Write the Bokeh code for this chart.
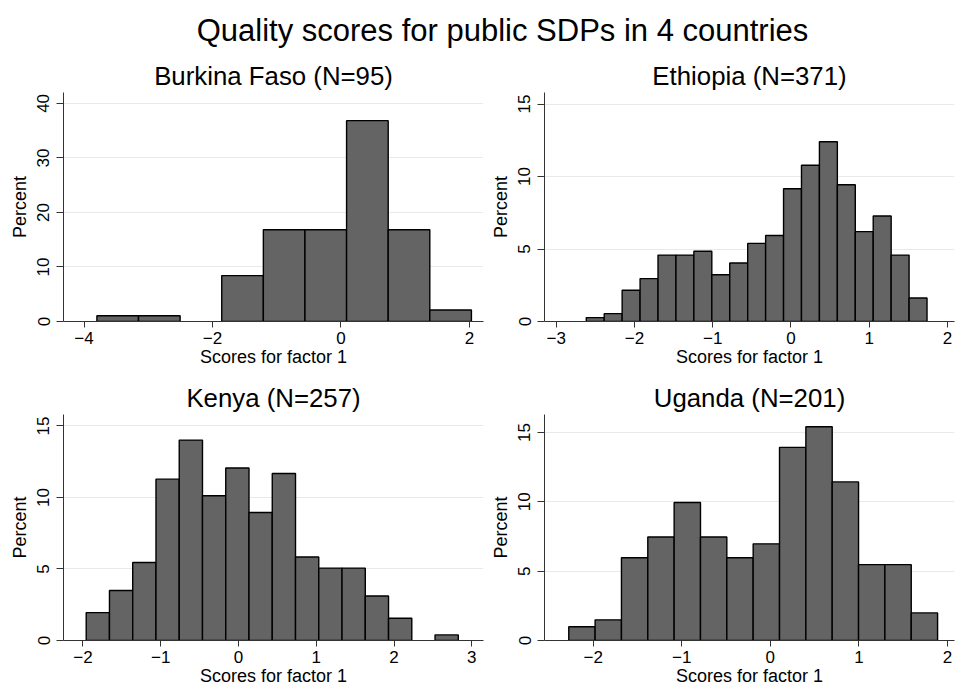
from bokeh.plotting import figure
from bokeh.layouts import gridplot, column
from bokeh.models import ColumnDataSource, FixedTicker, Range1d
from bokeh.core.properties import value
from bokeh.embed import file_html
from bokeh.resources import INLINE

# ---------------- data ----------------
main_title = "Quality scores for public SDPs in 4 countries"
x_axis_label = "Scores for factor 1"
y_axis_label = "Percent"

countries = ["Burkina Faso", "Ethiopia", "Kenya", "Uganda"]
sample_sizes = [95, 371, 257, 201]

burkina_bin_start = -3.80
burkina_bin_width = 0.648
burkina_percent = [1.05, 1.05, 0.0, 8.42, 16.84, 16.84, 36.84, 16.84, 2.11]

ethiopia_bin_start = -2.616
ethiopia_bin_width = 0.2292
ethiopia_percent = [0.27, 0.54, 2.16, 2.96, 4.58, 4.58, 4.85, 3.23, 4.04, 5.39,
                    5.93, 9.16, 10.78, 12.40, 9.43, 6.20, 7.28, 4.58, 1.62]

kenya_bin_start = -1.958
kenya_bin_width = 0.299
kenya_percent = [1.95, 3.50, 5.45, 11.28, 14.01, 10.12, 12.06, 8.95, 11.67, 5.84,
                 5.06, 5.06, 3.11, 1.56, 0.0, 0.39]

uganda_bin_start = -2.276
uganda_bin_width = 0.2975
uganda_percent = [0.99, 1.49, 5.97, 7.46, 9.95, 7.46, 5.97, 6.97, 13.93, 15.42,
                  11.44, 5.47, 5.47, 1.99]

burkina_x_ticks = [-4, -2, 0, 2]
ethiopia_x_ticks = [-3, -2, -1, 0, 1, 2]
kenya_x_ticks = [-2, -1, 0, 1, 2, 3]
uganda_x_ticks = [-2, -1, 0, 1, 2]
burkina_y_ticks = [0, 10, 20, 30, 40]
other_y_ticks = [0, 5, 10, 15]

# ---------------- styling / layout ----------------
FONT = "Liberation Sans"
BAR_FILL = "#646464"
AXIS_COLOR = "#333333"
GRID_COLOR = "#e9e9e9"


def make_panel(name, n, start, width, percent, xticks, yticks, xr, yr,
               border_left, border_right, border_top, frame_w, frame_h):
    lefts, rights, tops = [], [], []
    for i, pct in enumerate(percent):
        if pct > 0:
            lefts.append(start + i * width)
            rights.append(start + (i + 1) * width)
            tops.append(pct)
    src = ColumnDataSource(dict(left=lefts, right=rights, top=tops,
                                bottom=[0] * len(tops)))
    p = figure(frame_width=frame_w, frame_height=frame_h,
               x_range=Range1d(*xr), y_range=Range1d(*yr),
               toolbar_location=None, output_backend="svg",
               min_border_left=border_left, min_border_right=border_right,
               min_border_top=border_top, min_border_bottom=48,
               title=f"{name} (N={n})")
    p.quad(left="left", right="right", top="top", bottom="bottom", source=src,
           fill_color=BAR_FILL, line_color="black", line_width=1.4)
    p.title.align = "center"
    p.title.text_font = FONT
    p.title.text_font_size = "25.8px"
    p.title.text_font_style = "normal"
    p.title.text_color = "black"
    p.title.standoff = 6
    p.outline_line_color = None
    p.background_fill_color = "white"
    p.border_fill_color = "white"
    p.xgrid.visible = False
    p.ygrid.ticker = FixedTicker(ticks=yticks)
    p.ygrid.grid_line_color = GRID_COLOR
    p.ygrid.grid_line_width = 1
    p.xaxis.ticker = FixedTicker(ticks=xticks)
    p.yaxis.ticker = FixedTicker(ticks=yticks)
    p.xaxis.axis_label = x_axis_label
    p.yaxis.axis_label = y_axis_label
    for ax in (p.xaxis[0], p.yaxis[0]):
        ax.axis_line_color = AXIS_COLOR
        ax.major_tick_line_color = AXIS_COLOR
        ax.minor_tick_line_color = None
        ax.major_tick_in = 0
        ax.major_label_text_font = FONT
        ax.major_label_text_font_size = "17px"
        ax.major_label_text_color = "black"
        ax.axis_label_text_font = FONT
        ax.axis_label_text_font_size = "18px"
        ax.axis_label_text_font_style = "normal"
        ax.axis_label_text_color = "black"
    p.xaxis.major_tick_out = 6
    p.xaxis.major_label_standoff = 4
    p.xaxis.axis_label_standoff = 0
    p.yaxis.major_tick_out = 7
    p.yaxis.major_label_standoff = 7
    p.yaxis.axis_label_standoff = 5
    p.yaxis.major_label_orientation = "vertical"
    return p


p1 = make_panel(countries[0], sample_sizes[0], burkina_bin_start, burkina_bin_width,
                burkina_percent, burkina_x_ticks, burkina_y_ticks,
                (-4.32, 2.22), (0, 42), 63, 2, 42, 420, 229)
p2 = make_panel(countries[1], sample_sizes[1], ethiopia_bin_start, ethiopia_bin_width,
                ethiopia_percent, ethiopia_x_ticks, other_y_ticks,
                (-3.15, 2.09), (0, 15.8), 59, 4, 42, 410, 229)
p3 = make_panel(countries[2], sample_sizes[2], kenya_bin_start, kenya_bin_width,
                kenya_percent, kenya_x_ticks, other_y_ticks,
                (-2.25, 3.15), (0, 15.8), 63, 2, 45, 420, 226)
p4 = make_panel(countries[3], sample_sizes[3], uganda_bin_start, uganda_bin_width,
                uganda_percent, uganda_x_ticks, other_y_ticks,
                (-2.55, 2.08), (0, 16.3), 59, 4, 45, 410, 226)

# overall title
pt = figure(frame_width=958, frame_height=50, x_range=Range1d(0, 1),
            y_range=Range1d(0, 1), toolbar_location=None, output_backend="svg",
            min_border=0)
pt.text(x=[0.524], y=[0.40], text=[main_title], text_font=value(FONT),
        text_font_size="31px", text_align="center", text_baseline="middle",
        text_color="black")
pt.axis.visible = False
pt.grid.visible = False
pt.outline_line_color = None

grid = gridplot([[p1, p2], [p3, p4]], toolbar_location=None)
layout = column(pt, grid)

open("out.html", "w").write(file_html(layout, INLINE))
